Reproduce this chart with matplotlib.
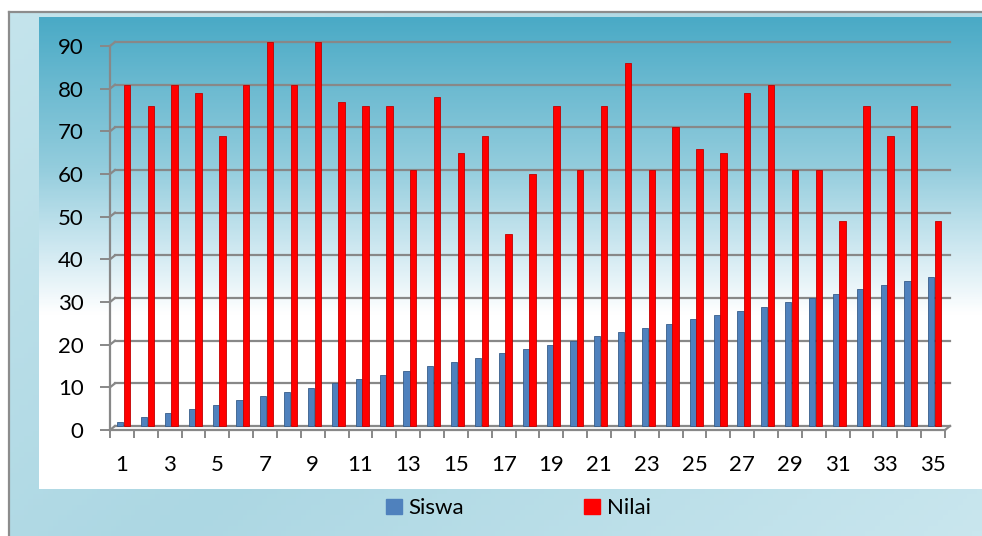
import numpy as np
import matplotlib.pyplot as plt
from matplotlib.patches import Patch
from matplotlib.transforms import ScaledTranslation
from matplotlib.colors import LinearSegmentedColormap

siswa = [1, 2, 3, 4, 5, 6, 7, 8, 9, 10, 11, 12, 13, 14, 15, 16, 17, 18,
         19, 20, 21, 22, 23, 24, 25, 26, 27, 28, 29, 30, 31, 32, 33, 34, 35]
nilai = [80, 75, 80, 78, 68, 80, 90, 80, 90, 76, 75, 75, 60, 77, 64, 68, 45, 59,
         75, 60, 75, 85, 60, 70, 65, 64, 78, 80, 60, 60, 48, 75, 68, 75, 48]
nomor = list(range(1, len(nilai) + 1))
y_ticks = [0, 10, 20, 30, 40, 50, 60, 70, 80, 90]

plt.rcParams['font.family'] = ['Lato', 'DejaVu Sans']

W, H = 982, 536
fig = plt.figure(figsize=(W / 100, H / 100), dpi=100, facecolor='white')

# outer chart area: soft light-blue gradient with a grey frame on top/left
bg = fig.add_axes([9 / W, 0, 1 - 9 / W, (H - 12) / H])
gx, gy = np.meshgrid(np.linspace(0, 1, 200), np.linspace(0, 1, 100))
outer_cmap = LinearSegmentedColormap.from_list('outer', ['#c4e4ec', '#acd7e3', '#c9e6ee'])
bg.imshow(0.6 * gx + 0.4 * gy, cmap=outer_cmap, aspect='auto', extent=[0, 1, 0, 1])
bg.set_xticks([])
bg.set_yticks([])
for side in ['right', 'bottom']:
    bg.spines[side].set_visible(False)
for side in ['top', 'left']:
    bg.spines[side].set_color('#8c8c8c')
    bg.spines[side].set_linewidth(1.6)

# plot area: blue at the top fading to white
inner = fig.add_axes([39 / W, 1 - 489 / H, (W - 39) / W, (489 - 17) / H])
inner_cmap = LinearSegmentedColormap.from_list(
    'inner', [(0, '#4aaac6'), (0.32, '#94cddd'), (0.5, '#d2eaf2'), (0.63, '#ffffff'), (1, '#ffffff')])
grad = np.linspace(0, 1, 300).reshape(-1, 1)
inner.imshow(grad, cmap=inner_cmap, aspect='auto', extent=[0, 1, 0, 1])
inner.axis('off')

ax = fig.add_axes([110 / W, 1 - 430 / H, (945 - 110) / W, (430 - 46) / H])
ax.patch.set_alpha(0)
ax.set_xlim(0.5, len(nilai) + 0.5)
ax.set_ylim(0, 90)

# back wall is shifted up-right from the front axes
back = ax.transData + ScaledTranslation(5 / 100, 4 / 100, fig.dpi_scale_trans)
grid_c = '#888888'

x0, x1 = 0.5, len(nilai) + 0.5
for v in y_ticks:
    ax.plot([x0, x1], [v, v], color=grid_c, lw=1.6, transform=back, zorder=1, clip_on=False)
    p = ax.transData.transform((x0, v)) + np.array([5, 4])
    bx, by = ax.transData.inverted().transform(p)
    ax.plot([x0, bx], [v, by], color=grid_c, lw=1.6, zorder=1, clip_on=False)
p = ax.transData.transform((x1, 0)) + np.array([5, 4])
bx, by = ax.transData.inverted().transform(p)
ax.plot([x1, bx], [0, by], color=grid_c, lw=1.6, zorder=1, clip_on=False)

x = np.array(nomor, dtype=float)
bars_s = ax.bar(x - 0.28, siswa, width=0.26, color='#4f81bd', edgecolor='#385d8a',
                linewidth=0.6, zorder=3, clip_on=False)
bars_n = ax.bar(x, nilai, width=0.27, color='#ff0000', edgecolor='#c00000',
                linewidth=0.6, zorder=3, clip_on=False)
for b in list(bars_s) + list(bars_n):
    b.set_transform(back)

for side in ['top', 'right']:
    ax.spines[side].set_visible(False)
for side in ['left', 'bottom']:
    ax.spines[side].set_color(grid_c)
    ax.spines[side].set_linewidth(1.6)

ax.set_yticks(y_ticks)
ax.tick_params(axis='y', length=7, width=1.4, color=grid_c, pad=12, labelsize=16)
ax.set_xticks(nomor[::2])
ax.set_xticklabels([str(n) for n in nomor[::2]])
ax.set_xticks(np.arange(0.5, len(nilai) + 1), minor=True)
ax.tick_params(axis='x', which='major', length=0, pad=18, labelsize=16)
ax.tick_params(axis='x', which='minor', length=6, width=1.4, color=grid_c)

handles = [Patch(color='#4f81bd', label='Siswa'), Patch(color='#ff0000', label='Nilai')]
fig.legend(handles=handles, loc='center', bbox_to_anchor=(0.528, 0.052), ncol=2,
           frameon=False, fontsize=16, handlelength=0.7, handleheight=0.7,
           handletextpad=0.3, columnspacing=5.4)

fig.savefig('out.png', dpi=100)
